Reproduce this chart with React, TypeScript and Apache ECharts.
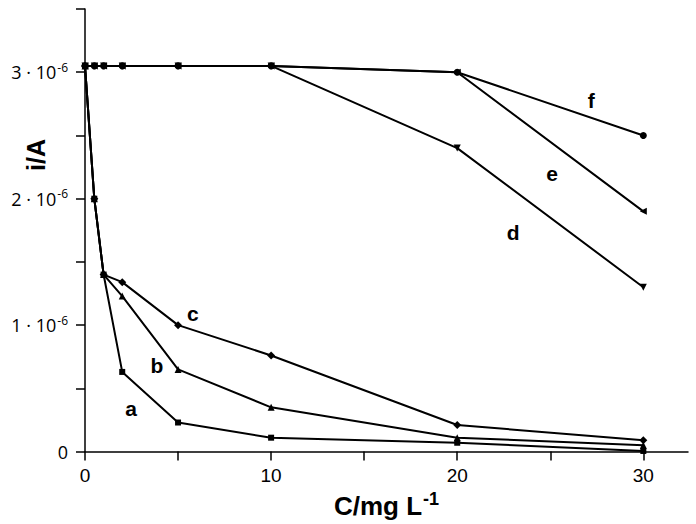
import React, { useEffect, useRef } from "react";
import * as echarts from "echarts";

const concA = [0, 0.5, 1, 2, 5, 10, 20, 30];
const seriesA = [3.05e-6, 2.0e-6, 1.4e-6, 0.63e-6, 0.23e-6, 0.11e-6, 0.07e-6, 0.005e-6];
const seriesB = [3.05e-6, 2.0e-6, 1.4e-6, 1.23e-6, 0.65e-6, 0.35e-6, 0.11e-6, 0.05e-6];
const seriesC = [3.05e-6, 2.0e-6, 1.4e-6, 1.34e-6, 1.0e-6, 0.76e-6, 0.21e-6, 0.09e-6];
const seriesD = [3.05e-6, 3.05e-6, 3.05e-6, 3.05e-6, 3.05e-6, 3.05e-6, 2.4e-6, 1.3e-6];
const seriesE = [3.05e-6, 3.05e-6, 3.05e-6, 3.05e-6, 3.05e-6, 3.05e-6, 3.0e-6, 1.9e-6];
const seriesF = [3.05e-6, 3.05e-6, 3.05e-6, 3.05e-6, 3.05e-6, 3.05e-6, 3.0e-6, 2.5e-6];
const curveNames = ["a", "b", "c", "d", "e", "f"];
const curveLabelX = [2.47, 3.87, 5.8, 23.0, 25.1, 27.2];
const curveLabelY = [0.34e-6, 0.68e-6, 1.09e-6, 1.73e-6, 2.2e-6, 2.78e-6];
const xTicks = [0, 5, 10, 15, 20, 25, 30];
const xLabels = [0, 10, 20, 30];
const yTicks = [0, 0.5e-6, 1e-6, 1.5e-6, 2e-6, 2.5e-6, 3e-6, 3.5e-6];
const yLabels = [0, 1e-6, 2e-6, 3e-6];

export default function App() {
  const ref = useRef<HTMLDivElement>(null);
  useEffect(() => {
    if (!ref.current) return;
    const chart = echarts.init(ref.current, null, { renderer: "svg" });
    const mk = (vals: number[]) => concA.map((x, i) => [x, vals[i]]);
    const base = {
      type: "line",
      color: "#000",
      lineStyle: { color: "#000", width: 2 },
      itemStyle: { color: "#000" },
      symbolSize: 6,
      z: 3,
    };
    chart.setOption({
      animation: false,
      backgroundColor: "#fff",
      grid: { left: 85, right: 8, top: 9, bottom: 71 },
      xAxis: {
        type: "value",
        min: 0,
        max: 32.4,
        splitLine: { show: false },
        axisLine: { onZero: false, lineStyle: { color: "#000", width: 1.5 } },
        axisTick: { show: true, customValues: xTicks, length: 9, lineStyle: { color: "#000", width: 1.5 } },
        axisLabel: {
          customValues: xLabels,
          color: "#000",
          fontSize: 19,
          fontFamily: "Liberation Sans, Arial",
          margin: 14,
        },
        name: "{m|C/mg L}{s|-1}",
        nameLocation: "middle",
        nameGap: 31,
        nameTextStyle: {
          rich: {
            m: { fontSize: 26, fontWeight: "bold", fontFamily: "Liberation Sans, Arial", color: "#000" },
            s: { fontSize: 18, fontWeight: "bold", fontFamily: "Liberation Sans, Arial", color: "#000", padding: [0, 0, 15, 1] },
          },
        },
      },
      yAxis: {
        type: "value",
        min: 0,
        max: 3.5e-6,
        splitLine: { show: false },
        axisLine: { onZero: false, lineStyle: { color: "#000", width: 1.5 } },
        axisTick: { show: true, customValues: yTicks, length: 9, lineStyle: { color: "#000", width: 1.5 } },
        axisLabel: {
          customValues: yLabels,
          margin: 17,
          formatter: (v: number) => {
            const n = Math.round(v * 1e6);
            return n === 0 ? "{n|0}" : `{n|${n} · 10}{s|-6}`;
          },
          rich: {
            n: { fontSize: 18, fontFamily: "Open Sans", color: "#000" },
            s: { fontSize: 12, fontFamily: "Open Sans", color: "#000", padding: [0, 0, 10, 1] },
          },
        },
      },
      graphic: [
        {
          type: "text",
          x: 36,
          y: 155,
          rotation: Math.PI / 2,
          style: {
            text: "i/A",
            font: "bold 25px 'Liberation Sans', Arial",
            fill: "#000",
            align: "center",
            verticalAlign: "middle",
          },
        },
      ],
      series: [
        { ...base, name: "a", data: mk(seriesA), symbol: "rect", symbolSize: 6 },
        { ...base, name: "b", data: mk(seriesB), symbol: "triangle", symbolSize: 7 },
        { ...base, name: "c", data: mk(seriesC), symbol: "diamond", symbolSize: 8 },
        { ...base, name: "d", data: mk(seriesD), symbol: "triangle", symbolRotate: 180, symbolSize: 7 },
        { ...base, name: "e", data: mk(seriesE), symbol: "triangle", symbolRotate: 90, symbolSize: 7 },
        { ...base, name: "f", data: mk(seriesF), symbol: "circle", symbolSize: 7 },
        {
          type: "scatter",
          name: "labels",
          symbolSize: 0,
          silent: true,
          itemStyle: { color: "#000", opacity: 1 },
          data: curveNames.map((n, i) => [curveLabelX[i], curveLabelY[i], n]),
          label: {
            show: true,
            position: "inside",
            formatter: (p: any) => p.value[2],
            fontSize: 21,
            fontWeight: "bold",
            fontFamily: "Liberation Sans, Arial",
            color: "#000",
            opacity: 1,
            textBorderWidth: 0,
          },
        },
      ],
    });
    return () => chart.dispose();
  }, []);
  return (
    <div
      ref={ref}
      style={{ position: "fixed", left: 0, top: 0, width: 696, height: 524 }}
    />
  );
}
